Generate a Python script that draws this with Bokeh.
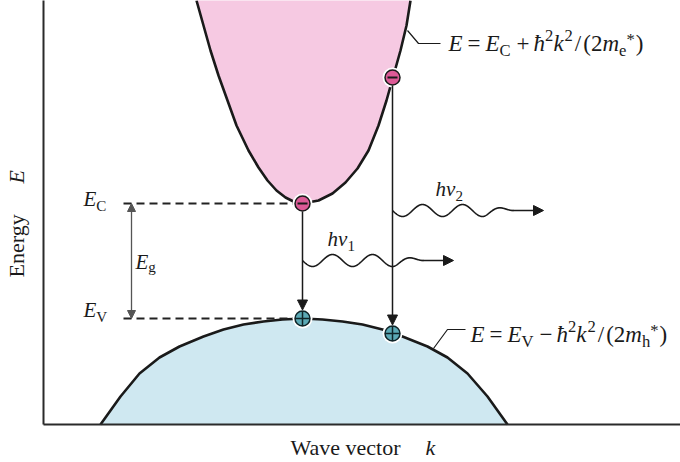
import numpy as np
from bokeh.plotting import figure
from bokeh.models import Label, Arrow, NormalHead, Range1d
from bokeh.embed import file_html
from bokeh.resources import INLINE

# ---------------- data (arbitrary units: k = wave vector, E = energy) ----------------
E_C = 2.21   # conduction-band edge
E_V = 1.06   # valence-band edge
K_AXIS = -2.59  # k at the energy axis

# conduction band E(k)
cb_k = [-1.06, -0.99, -0.92, -0.84, -0.75, -0.66, -0.54, -0.44, -0.35, -0.26, -0.17, -0.09, 0.00,
        0.16, 0.30, 0.43, 0.55, 0.66, 0.76, 0.84, 0.91, 0.98, 1.04, 1.08]
cb_E = [4.24, 3.99, 3.74, 3.49, 3.24, 2.99, 2.74, 2.57, 2.44, 2.34, 2.27, 2.23, 2.21,
        2.24, 2.31, 2.42, 2.56, 2.74, 2.99, 3.24, 3.49, 3.74, 3.99, 4.24]

# valence band E(k)
vb_k = [-2.02, -1.82, -1.63, -1.43, -1.23, -0.99, -0.79, -0.59, -0.39, -0.20, 0.00,
        0.20, 0.40, 0.60, 0.80, 1.00, 1.25, 1.45, 1.65, 1.85, 2.05]
vb_E = [0.00, 0.28, 0.51, 0.67, 0.78, 0.88, 0.95, 1.00, 1.03, 1.05, 1.06,
        1.05, 1.03, 1.00, 0.95, 0.88, 0.78, 0.67, 0.51, 0.28, 0.00]

# carriers
e_k = [0.00, 0.90]
e_E = [E_C, 3.47]
h_k = [0.00, 0.90]
h_E = [E_V, 0.91]

# emitted photons (start on the transition line)
ph_k = [0.00, 0.90]
ph_E = [1.64, 2.14]
ph_lbl = ["1", "2"]

# ---------------- style ----------------
FONT = "Liberation Serif"
INK = "#1a1a1a"
PINK = "#f6c9e2"
BLUE = "#cfe8f1"
E_FILL = "#dc5a96"
H_FILL = "#5ba9b5"

p = figure(width=680, height=462, output_backend="svg", toolbar_location=None,
           x_range=Range1d(-3.02, 3.78), y_range=Range1d(-0.38, 4.24),
           min_border=0)
p.grid.visible = False
p.axis.visible = False
p.outline_line_color = None
p.background_fill_color = "white"

# bands
p.patch(cb_k + [cb_k[-1], cb_k[0]], cb_E + [5, 5], fill_color=PINK, line_color=None)
p.patch(vb_k, vb_E, fill_color=BLUE, line_color=None)
p.line(cb_k, cb_E, line_color=INK, line_width=2.6)
p.line(vb_k, vb_E, line_color=INK, line_width=2.6)

# axes
p.line([K_AXIS, K_AXIS], [0, 5], line_color="#2a2a2a", line_width=2)
p.line([K_AXIS, 5], [0, 0], line_color="#2a2a2a", line_width=2)

# band-edge dashed lines
p.line([-1.79, -0.08], [E_C, E_C], line_color="#222222", line_width=2, line_dash="8 5")
p.line([-1.79, -0.08], [E_V, E_V], line_color="#222222", line_width=2, line_dash="8 5")

# gap arrow
for tip in (E_C, E_V):
    p.add_layout(Arrow(x_start=-1.71, y_start=(E_C + E_V) / 2, x_end=-1.71, y_end=tip,
                       line_color="#555555", line_width=1.3,
                       end=NormalHead(size=8, fill_color="#555555", line_color="#555555")))

# transitions
for ke, Ee, kh, Eh in zip(e_k, e_E, h_k, h_E):
    p.add_layout(Arrow(x_start=ke, y_start=Ee - 0.08, x_end=kh, y_end=Eh + 0.085,
                       line_color=INK, line_width=1.5,
                       end=NormalHead(size=10, fill_color=INK, line_color=INK)))

# photons (wavy line + arrow), drawn in pixel-sized units
for k0, E0 in zip(ph_k, ph_E):
    s = np.linspace(0, 121, 300)
    env = np.where(s < 92, 6.0, np.clip(6.0 - (s - 92) * 0.2, 0, None))
    p.line(k0 + s / 100, E0 - env * np.sin(2 * np.pi * s / 40) / 100, line_color=INK, line_width=1.6)
    p.add_layout(Arrow(x_start=k0 + 1.20, y_start=E0, x_end=k0 + 1.51, y_end=E0,
                       line_color=INK, line_width=1.6,
                       end=NormalHead(size=10, fill_color=INK, line_color=INK)))

# carriers
p.scatter(e_k + h_k, e_E + h_E, size=20, fill_color="white", line_color=None)
p.scatter(e_k, e_E, size=15, fill_color=E_FILL, line_color=INK, line_width=1.5)
p.scatter(e_k, e_E, marker="dash", size=10, line_color=INK, line_width=2.2)
p.scatter(h_k, h_E, marker="circle_cross", size=15, fill_color=H_FILL, line_color="#0f2428", line_width=1.5)

# leader lines
p.line([1.05, 1.16, 1.38], [3.94, 3.81, 3.81], line_color=INK, line_width=1.2)
p.line([1.31, 1.45, 1.63], [0.76, 0.95, 0.95], line_color=INK, line_width=1.2)

# ---------------- text helpers ----------------
W_REG = {'=': 0.564, '+': 0.564, '\u2212': 0.564, '/': 0.278, '(': 0.333, ')': 0.333,
         '2': 0.5, '1': 0.5, '*': 0.5, 'C': 0.667, 'V': 0.722, 'e': 0.444, 'h': 0.5, 'g': 0.5}
W_IT = {'E': 0.611, '\u0127': 0.5, 'k': 0.444, 'm': 0.722, 'h': 0.5, '\u03bd': 0.45}
LIFT = 0.4  # baseline correction, fraction of font size


def label(x, y, txt, style, fs, angle=0.0):
    lift = LIFT * fs / 100
    if angle:
        x -= lift
    else:
        y += lift
    p.add_layout(Label(x=x, y=y, text=txt, text_font=FONT, text_font_style=style,
                       text_font_size=f"{fs:.1f}px", text_color=INK, angle=angle,
                       text_baseline="alphabetic", text_align="left"))


def rich(x0, y0, segs, size):
    x = 0.0
    for txt, style, scale, dy, pad in segs:
        fs = size * scale
        label(x0 + x / 100, y0 + dy / 100, txt, style, fs)
        table = W_IT if style == "italic" else W_REG
        x += sum(table.get(c, 0.5) for c in txt) * fs + pad


SUB = 0.72
# band labels
rich(-2.19, E_C - 0.04, [("E", "italic", 1, 0, 0), ("C", "normal", SUB, -5, 0)], 21)
rich(-2.19, E_V - 0.00, [("E", "italic", 1, 0, 0), ("V", "normal", SUB, -5, 0)], 21)
rich(-1.67, 1.54, [("E", "italic", 1, 0, 0), ("g", "normal", SUB, -3, 0)], 21)

# photon labels
for k0, E0, lab, dk in zip(ph_k, ph_E, ph_lbl, (0.25, 0.43)):
    rich(k0 + dk, E0 + 0.13, [("h", "italic", 1, 0, 0), ("\u03bd", "italic", 1, 0, 0),
                             (lab, "normal", SUB, -5, 0)], 21)


def formula(x0, y0, band, sign, mass):
    rich(x0, y0, [("E", "italic", 1, 0, 5), ("=", "normal", 1, 0, 5), ("E", "italic", 1, 0, 0),
                  (band, "normal", SUB, -5, 6), (sign, "normal", 1, 0, 4), ("\u0127", "italic", 1, 0, 0),
                  ("2", "normal", SUB, 10, 0), ("k", "italic", 1, 0, 1), ("2", "normal", SUB, 10, 2),
                  ("/", "normal", 1, 0, 2), ("(2", "normal", 1, 0, 0), ("m", "italic", 1, 0, 0),
                  (mass, "normal", SUB, -5, 0), ("*", "normal", SUB, 6, 1), (")", "normal", 1, 0, 0)], 23)


formula(1.46, 3.72, "C", "+", "e")
formula(1.68, 0.81, "V", "\u2212", "h")

# axis titles
label(-0.12, -0.32, "Wave vector", "normal", 22)
label(1.23, -0.32, "k", "italic", 22)
label(-2.77, 1.47, "Energy", "normal", 22, angle=np.pi / 2)
label(-2.77, 2.41, "E", "italic", 22, angle=np.pi / 2)

open("out.html", "w").write(file_html(p, INLINE))
